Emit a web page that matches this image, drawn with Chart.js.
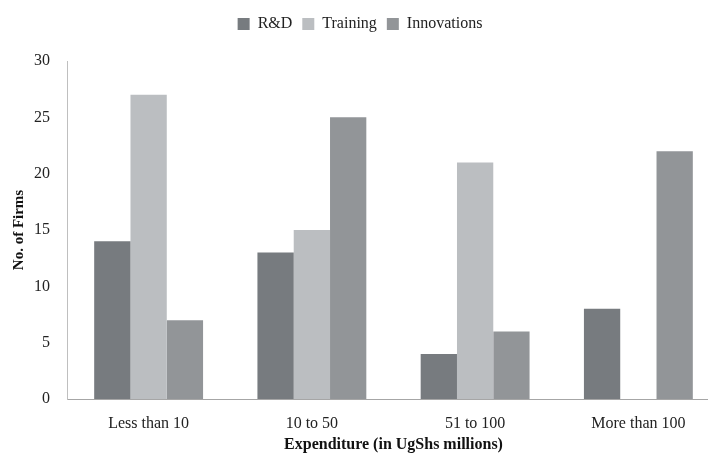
<!DOCTYPE html>
<html><head><meta charset="utf-8">
<script src="https://cdn.jsdelivr.net/npm/chart.js@4"></script>
<style>html,body{margin:0;padding:0;overflow:hidden;background:#fff}#wrap{width:722px;height:457px}</style>
</head><body><div id="wrap"><canvas id="c" width="722" height="457"></canvas></div>
<script>
const categories = ["Less than 10", "10 to 50", "51 to 100", "More than 100"];
const rdValues = [14, 13, 4, 8];
const trainingValues = [27, 15, 21, 0];
const innovationValues = [7, 25, 6, 22];
const yTicks = [0, 5, 10, 15, 20, 25, 30];

const font = "'Liberation Serif','Times New Roman',serif";
const legendMargin = {
  id: 'legendMargin',
  beforeInit(chart) {
    const orig = chart.legend.fit;
    chart.legend.fit = function () { orig.call(this); this.height += 19; };
  }
};
new Chart(document.getElementById('c'), {
  type: 'bar',
  data: {
    labels: categories,
    datasets: [
      {label: 'R&D', data: rdValues, backgroundColor: '#777b7f'},
      {label: 'Training', data: trainingValues, backgroundColor: '#bbbec1'},
      {label: 'Innovations', data: innovationValues, backgroundColor: '#929598'}
    ]
  },
  plugins: [legendMargin],
  options: {
    responsive: false,
    animation: false,
    layout: {padding: {left: 0, right: 2, top: 6, bottom: 0}},
    datasets: {bar: {categoryPercentage: 0.667, barPercentage: 1.0}},
    plugins: {
      legend: {position: 'top', labels: {font: {family: font, size: 16}, color: '#222', boxWidth: 12, boxHeight: 12, padding: 10}},
      tooltip: {enabled: false}
    },
    scales: {
      x: {
        afterFit: (s) => { s.height = 58; },
        grid: {display: false, drawTicks: false},
        border: {display: true, color: '#a6a6a6', width: 1},
        ticks: {font: {family: font, size: 16}, color: '#222', padding: 15},
        title: {display: true, text: 'Expenditure (in UgShs millions)', font: {family: font, size: 16, weight: 'bold'}, color: '#111', padding: {top: 4, bottom: 3}}
      },
      y: {
        min: 0, max: 30,
        afterBuildTicks: (s) => { s.ticks = yTicks.map(v => ({value: v})); },
        afterFit: (s) => { s.width = 67; },
        grid: {display: false, drawTicks: false},
        border: {display: true, color: '#bfbfbf', width: 1},
        ticks: {font: {family: font, size: 16}, color: '#222', padding: 17},
        title: {display: true, text: 'No. of Firms', font: {family: font, size: 15, weight: 'bold'}, color: '#111', padding: {top: 10, bottom: 4}}
      }
    }
  }
});
</script></body></html>
